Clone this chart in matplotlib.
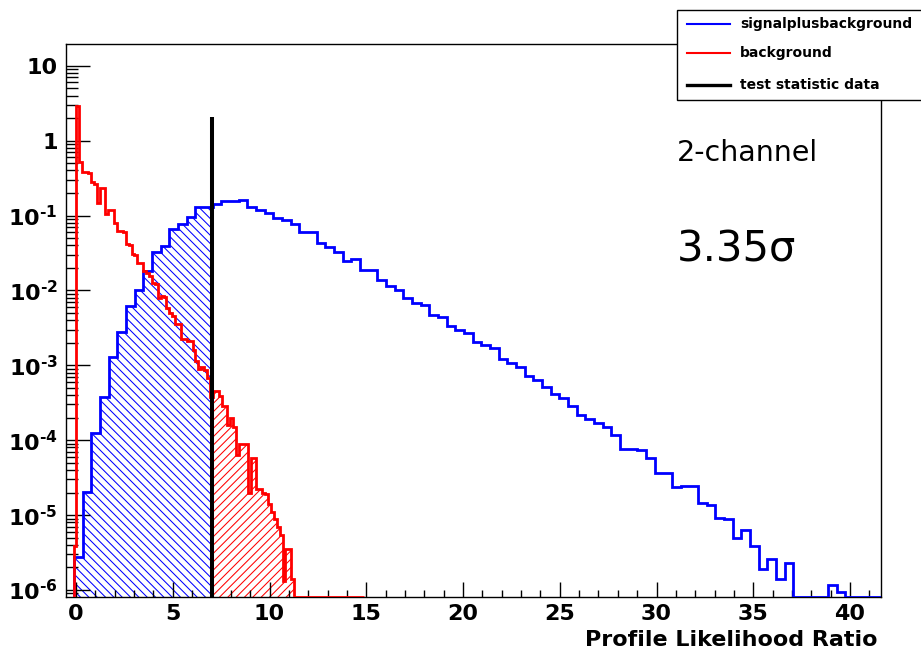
import numpy as np
import matplotlib
matplotlib.use("Agg")
import matplotlib.pyplot as plt
from matplotlib.patches import Rectangle
from matplotlib.lines import Line2D
from matplotlib.ticker import FixedLocator, FixedFormatter, MultipleLocator, NullFormatter

# ---------------- data ----------------
# signal+background sampling distribution (100 bins)
sb_low, sb_binwidth = -0.107, 0.448
sb_values = [
    2.8e-6, 2.03e-5, 1.26e-4, 3.79e-4, 1.29e-3, 2.75e-3, 6.25e-3, 1.02e-2, 1.79e-2, 3.3e-2,
    3.97e-2, 6.6e-2, 7.6e-2, 9.5e-2, 0.128, 0.131, 0.141, 0.158, 0.156, 0.161,
    0.128, 0.12, 0.107, 0.094, 0.086, 0.076, 0.0595, 0.0595, 0.0434, 0.0377,
    0.0327, 0.025, 0.0259, 0.0185, 0.0188, 0.0137, 0.0116, 0.0100, 7.9e-3, 6.7e-3,
    6.4e-3, 4.7e-3, 4.4e-3, 3.4e-3, 2.94e-3, 2.74e-3, 2.02e-3, 1.88e-3, 1.7e-3, 1.22e-3,
    1.06e-3, 9.4e-4, 7.3e-4, 6.3e-4, 5.2e-4, 4.1e-4, 3.7e-4, 2.84e-4, 2.2e-4, 1.95e-4,
    1.7e-4, 1.5e-4, 1.16e-4, 7.7e-5, 7.6e-5, 7.3e-5, 5.8e-5, 3.6e-5, 3.6e-5, 2.4e-5,
    2.45e-5, 2.45e-5, 1.44e-5, 1.36e-5, 9.2e-6, 8.8e-6, 5.0e-6, 6.4e-6, 3.9e-6, 1.9e-6,
    2.56e-6, 1.4e-6, 2.3e-6, 0, 0, 0, 0, 1.16e-6, 9.3e-7, 0,
    0, 0, 0, 0, 0, 0, 0, 0, 0, 0,
]
# background-only sampling distribution (100 bins)
b_low, b_binwidth = -0.13, 0.15
b_values = [
    3.9e-6, 2.93, 0.525, 0.385, 0.385, 0.37, 0.28, 0.26, 0.146, 0.23,
    0.23, 0.105, 0.117, 0.117, 0.08, 0.063, 0.062, 0.06, 0.042, 0.041,
    0.031, 0.030, 0.0235, 0.0233, 0.018, 0.017, 0.0155, 0.0125, 0.012, 7.9e-3,
    8.4e-3, 8.2e-3, 5.8e-3, 5.0e-3, 4.5e-3, 3.6e-3, 3.6e-3, 2.24e-3, 2.24e-3, 2.1e-3,
    2.1e-3, 1.62e-3, 1.13e-3, 8.8e-4, 9.5e-4, 8.7e-4, 6.8e-4, 3.8e-4, 4.5e-4, 4.5e-4,
    3.85e-4, 2.85e-4, 2.85e-4, 1.6e-4, 2.0e-4, 1.5e-4, 6.4e-5, 9.0e-5, 9.0e-5, 9.0e-5,
    2.0e-5, 5.8e-5, 5.8e-5, 2.2e-5, 2.2e-5, 2.0e-5, 1.9e-5, 1.4e-5, 1.1e-5, 9e-6,
    7e-6, 5.4e-6, 1.3e-6, 3.5e-6, 3.5e-6, 1.4e-6, 0, 0, 0, 0,
    0, 0, 0, 0, 0, 0, 0, 0, 0, 0,
    0, 0, 0, 0, 0, 0, 0, 0, 0, 0,
]
test_stat = 7.05
test_stat_top = 2.05

legend_labels = ["signalplusbackground", "background", "test statistic data"]
annotation_channel = "2-channel"
annotation_significance = "3.35\u03c3"
x_label = "Profile Likelihood Ratio"
x_major_ticks = [0, 5, 10, 15, 20, 25, 30, 35, 40]
y_exponents = [-6, -5, -4, -3, -2, -1, 0, 1]

# ---------------- style ----------------
W, H, DPI = 921, 654, 100
plt.rcParams["font.family"] = ["DejaVu Sans"]
plt.rcParams["hatch.linewidth"] = 0.75

fig = plt.figure(figsize=(W / DPI, H / DPI), dpi=DPI)
ax_l, ax_r, ax_t, ax_b = 66, 881, 44, 597
ax = fig.add_axes([ax_l / W, 1 - ax_b / H, (ax_r - ax_l) / W, (ax_b - ax_t) / H])

x_min, x_max = -0.52, 41.6
y_min, y_max = 8.07e-7, 19.5
ax.set_xlim(x_min, x_max)
ax.set_yscale("log")
ax.set_ylim(y_min, y_max)

BLUE, RED = "#0000ff", "#ff0000"

sb_vals = np.array(sb_values)
b_vals = np.array(b_values)
sb_edges = sb_low + sb_binwidth * np.arange(len(sb_vals) + 1)
b_edges = b_low + b_binwidth * np.arange(len(b_vals) + 1)
sb_draw = np.where(sb_vals > 0, sb_vals, y_min)
b_draw = np.where(b_vals > 0, b_vals, y_min)

# shaded tails: bins whose centre lies on the relevant side of the data value
sb_centres = 0.5 * (sb_edges[1:] + sb_edges[:-1])
b_centres = 0.5 * (b_edges[1:] + b_edges[:-1])
n_sb = int((sb_centres < test_stat).sum())
ax.stairs(sb_draw[:n_sb], sb_edges[:n_sb + 1], baseline=y_min, fill=True,
          facecolor="none", edgecolor=BLUE, hatch="\\\\\\\\", linewidth=0, zorder=1)
i_b = int((b_centres < test_stat).sum())
ax.stairs(b_draw[i_b:], b_edges[i_b:], baseline=y_min, fill=True,
          facecolor="none", edgecolor=RED, hatch="////", linewidth=0, zorder=1)

# histograms
ax.stairs(sb_draw, sb_edges, baseline=y_min, color=BLUE, linewidth=2.0, zorder=3)
ax.stairs(b_draw, b_edges, baseline=y_min, color=RED, linewidth=2.0, zorder=3)

# test statistic
ax.vlines(test_stat, y_min, test_stat_top, color="black", linewidth=2.9, zorder=4)

# ticks
ax.xaxis.set_major_locator(FixedLocator(x_major_ticks))
ax.xaxis.set_minor_locator(MultipleLocator(1))
ax.set_xticklabels([str(t) for t in x_major_ticks])
ylocs = [10.0 ** e for e in y_exponents]
ylabels = []
for e in y_exponents:
    if e == 0:
        ylabels.append("1")
    elif e == 1:
        ylabels.append("10")
    else:
        ylabels.append("$\\mathbf{10^{\u2010%d}}$" % abs(e))
ax.yaxis.set_major_locator(FixedLocator(ylocs))
ax.yaxis.set_major_formatter(FixedFormatter(ylabels))
minor = [m * 10.0 ** e for e in range(-7, 2) for m in range(2, 10)]
ax.yaxis.set_minor_locator(FixedLocator(minor))
ax.yaxis.set_minor_formatter(NullFormatter())

ax.tick_params(axis="both", which="both", direction="in", top=False, right=False,
               width=1.0, colors="black")
ax.tick_params(axis="x", which="major", length=11, pad=5, labelsize=16)
ax.tick_params(axis="x", which="minor", length=5.2)
ax.tick_params(axis="y", which="major", length=17, pad=6, labelsize=16)
ax.tick_params(axis="y", which="minor", length=8.6)
for lab in ax.get_xticklabels() + ax.get_yticklabels():
    lab.set_fontweight("bold")
for sp in ax.spines.values():
    sp.set_linewidth(1.0)

ax.set_xlabel(x_label, fontsize=16, fontweight="bold", ha="right", va="top")
ax.xaxis.set_label_coords((877 - ax_l) / (ax_r - ax_l), -(630 - ax_b) / (ax_b - ax_t))

# annotations
fig.text(677 / W, 1 - 153 / H, annotation_channel, fontsize=20.5, ha="left", va="center")
fig.text(677 / W, 1 - 250 / H, annotation_significance, fontsize=30, ha="left", va="center")

# legend box (drawn in figure pixels)
def fx(px):
    return px / W

def fy(py):
    return 1 - py / H

fig.add_artist(Rectangle((fx(677), fy(100)), fx(940) - fx(677), fy(10) - fy(100),
                         transform=fig.transFigure, facecolor="white",
                         edgecolor="black", linewidth=1.0, zorder=10))
leg_colors = [BLUE, RED, "black"]
leg_widths = [1.5, 1.5, 2.4]
leg_rows = [24, 53.3, 85]
for lab, c, lw, yr in zip(legend_labels, leg_colors, leg_widths, leg_rows):
    fig.add_artist(Line2D([fx(686.7), fx(730)], [fy(yr), fy(yr)], color=c,
                          linewidth=lw, transform=fig.transFigure, zorder=11))
    fig.text(fx(740), fy(yr), lab, fontsize=10, fontweight="bold",
             ha="left", va="center", zorder=11)

fig.savefig("out.png", dpi=DPI)
